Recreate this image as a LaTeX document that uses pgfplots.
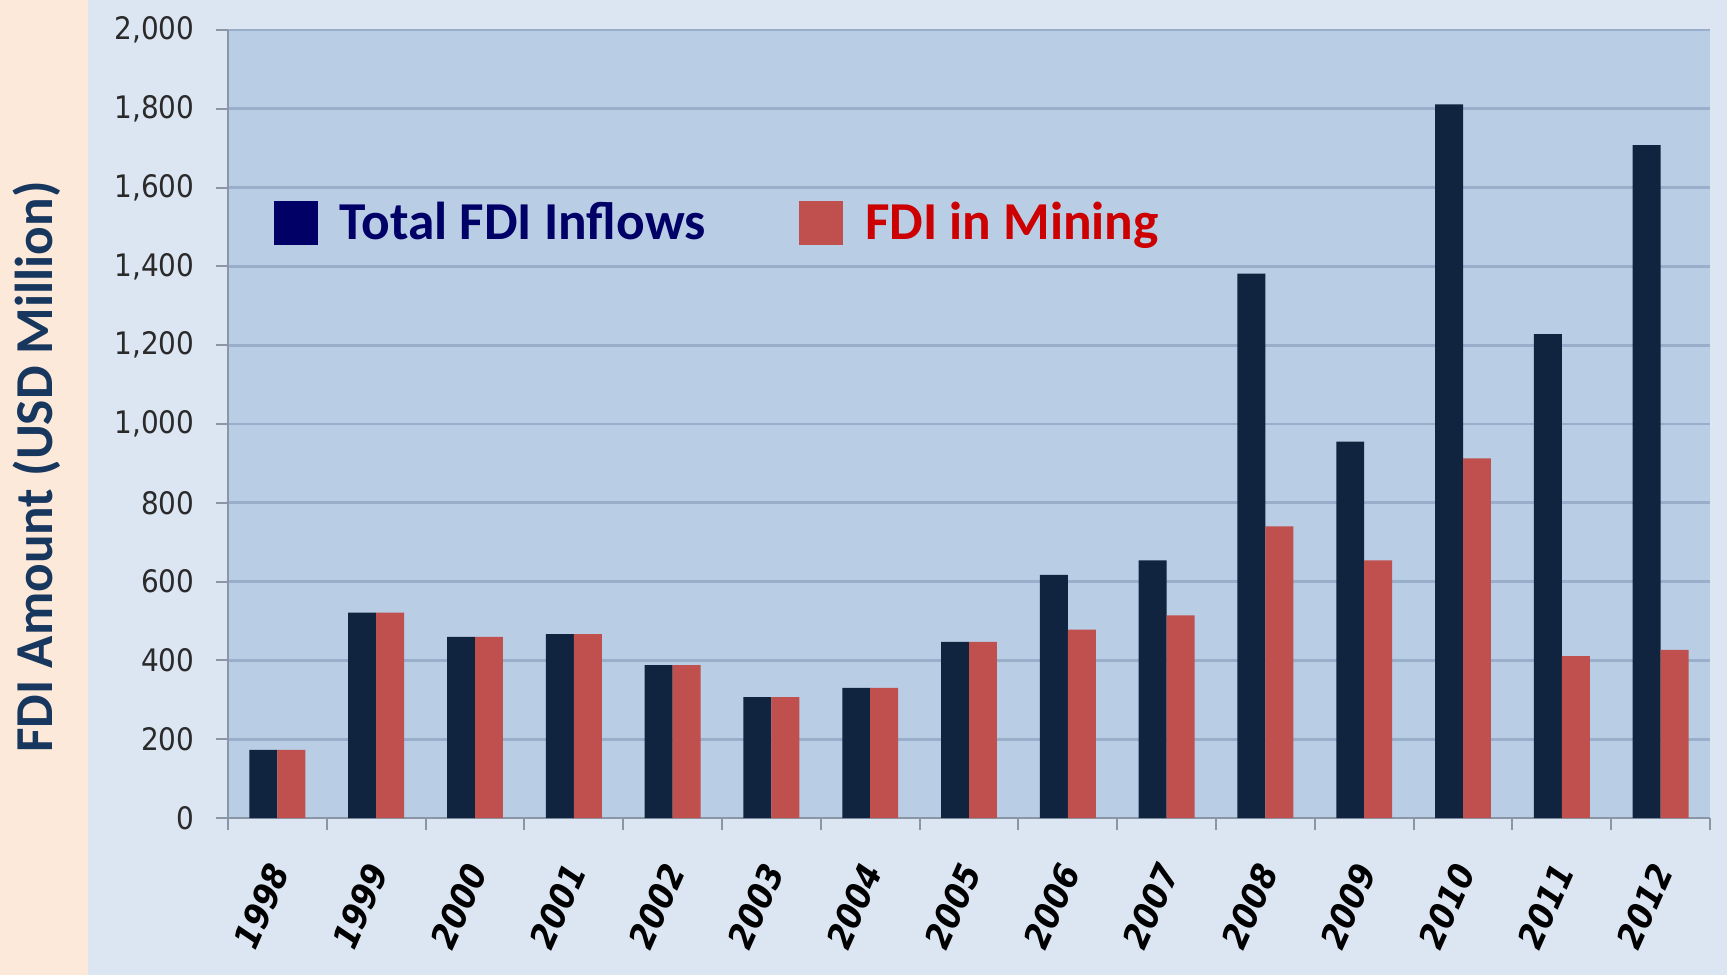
\documentclass[border=0pt]{standalone}
\usepackage{fontspec}
\setmainfont{Carlito}
\newfontfamily\tickfont{DejaVu Sans Condensed}
\usepackage{pgfplots}
\pgfplotsset{compat=1.18}
\definecolor{outerbg}{HTML}{DCE5F2}
\definecolor{peach}{HTML}{FDE9D9}
\definecolor{plotbg}{HTML}{B9CDE5}
\definecolor{gridc}{HTML}{98AECA}
\definecolor{axisgray}{HTML}{8A96A6}
\definecolor{barnavy}{HTML}{10233F}
\definecolor{barred}{HTML}{C0504D}
\definecolor{legnavy}{HTML}{000066}
\definecolor{legred}{HTML}{CC0000}
\definecolor{ylabcol}{HTML}{17375E}
\definecolor{tickgray}{HTML}{2A2A2A}
\begin{document}
\begin{tikzpicture}
\useasboundingbox (0,0) rectangle (518.1pt,292.5pt);
\fill[outerbg] (0,0) rectangle (518.1pt,292.5pt);
\fill[peach] (0,0) rectangle (26.4pt,292.5pt);
\begin{axis}[
  at={(68.4pt,47.1pt)}, anchor=south west,
  scale only axis, width=444.6pt, height=236.4pt,
  xmin=-0.5, xmax=14.5, ymin=0, ymax=2000,
  ybar=0pt, bar width=0.283,
  axis background/.style={fill=plotbg},
  axis x line*=bottom, axis y line*=left,
  axis line style={draw=axisgray, line width=0.6pt, -},
  ytick={0,200,...,2000},
  ymajorgrids, major grid style={draw=gridc, line width=0.8pt},
  tick align=outside, major tick length=3.6pt,
  tick style={draw=axisgray, line width=0.6pt},
  xtick={-0.5,0.5,...,14.5}, xticklabels={},
  extra x ticks={0,1,2,3,4,5,6,7,8,9,10,11,12,13,14},
  extra x tick labels={1998,1999,2000,2001,2002,2003,2004,2005,2006,2007,2008,2009,2010,2011,2012},
  extra x tick style={tick style={draw=none},
    xticklabel style={font=\tickfont\bfseries\itshape\fontsize{10.5}{12}\selectfont,
      xshift=2pt, yshift=-7.7pt, rotate=66, anchor=east, text=black}},
  /pgf/number format/assume math mode=true,
  /pgf/number format/1000 sep={,},
  yticklabel style={font=\tickfont\fontsize{9.3}{11}\selectfont, text=tickgray, xshift=-3pt},
  ylabel={FDI Amount (USD Million)},
  every axis y label/.style={at={(rel axis cs:-0.1293,0.4454)}, rotate=90, anchor=center,
    font=\bfseries\fontsize{16}{19}\selectfont, text=ylabcol},
  legend style={at={(axis cs:-0.045,1510)}, anchor=west, draw=none, fill=none,
    inner sep=0pt, legend columns=2,
    font=\bfseries\fontsize{16}{19}\selectfont,
    /tikz/every odd column/.append style={column sep=4.6pt},
    /tikz/every even column/.append style={column sep=26pt}},
  legend cell align=left,
]
\addplot[fill=barnavy, draw=none, forget plot, bar shift=-0.1415] coordinates {
 (0,173) (1,521) (2,460) (3,467) (4,388) (5,307) (6,330) (7,447)
 (8,617) (9,654) (10,1382) (11,955) (12,1811) (13,1228) (14,1708)};
\addplot[fill=barred, draw=none, forget plot, bar shift=0.1415] coordinates {
 (0,173) (1,521) (2,460) (3,467) (4,388) (5,307) (6,330) (7,447)
 (8,478) (9,514) (10,740) (11,654) (12,913) (13,411) (14,427)};
\addlegendimage{legend image code/.code={\fill[legnavy] (0pt,-6.45pt) rectangle (12.9pt,6.45pt);}}
\addlegendentry{\textcolor{legnavy}{Total FDI Inflows}}
\addlegendimage{legend image code/.code={\fill[barred] (0pt,-6.45pt) rectangle (12.9pt,6.45pt);}}
\addlegendentry{\textcolor{legred}{FDI in Mining}}
\end{axis}
\end{tikzpicture}
\end{document}
